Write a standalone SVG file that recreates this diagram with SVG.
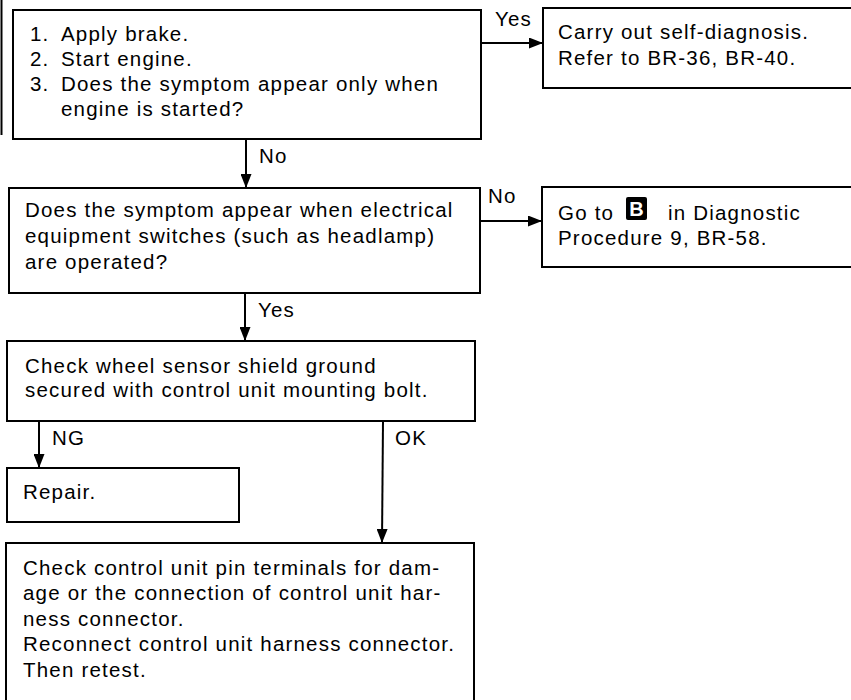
<svg xmlns="http://www.w3.org/2000/svg" width="851" height="700" viewBox="0 0 851 700">
  <defs>
    <marker id="ah" markerUnits="userSpaceOnUse" markerWidth="14" markerHeight="11" refX="14" refY="5.5" orient="auto">
      <path d="M0,0 L14,5.5 L0,11 z" fill="#000"/>
    </marker>
    <style>
      .box { fill: #fff; stroke: #000; stroke-width: 2; }
      .t { font-family: "Liberation Sans", Arial, sans-serif; font-size: 20.5px; letter-spacing: 1.2px; fill: #000; }
      .c { stroke: #000; stroke-width: 2; fill: none; marker-end: url(#ah); }
    </style>
  </defs>
  <rect x="0" y="0" width="851" height="700" fill="#fff"/>
  <line x1="1.5" y1="0" x2="1.5" y2="135" stroke="#000" stroke-width="2"/>

  <g id="connectors">
    <line class="c" x1="481" y1="43" x2="543" y2="43"/>
    <text class="t" x="495" y="26">Yes</text>
    <line class="c" x1="246" y1="139" x2="246" y2="188"/>
    <text class="t" x="259" y="163">No</text>
    <line class="c" x1="480" y1="221" x2="542" y2="221"/>
    <text class="t" x="488" y="203">No</text>
    <line class="c" x1="245" y1="293" x2="245" y2="341"/>
    <text class="t" x="258" y="317">Yes</text>
    <line class="c" x1="39" y1="421" x2="39" y2="468"/>
    <text class="t" x="52" y="445">NG</text>
    <line class="c" x1="383" y1="421" x2="382" y2="543"/>
    <text class="t" x="395" y="445">OK</text>
  </g>

  <g id="n1">
    <rect class="box" x="13" y="10" width="468" height="129"/>
    <text class="t" x="30" y="41">1.</text><text class="t" x="61" y="41">Apply brake.</text>
    <text class="t" x="30" y="66">2.</text><text class="t" x="61" y="66">Start engine.</text>
    <text class="t" x="30" y="91">3.</text><text class="t" x="61" y="91">Does the symptom appear only when</text>
    <text class="t" x="61" y="116">engine is started?</text>
  </g>

  <g id="n2">
    <rect class="box" x="543" y="8" width="330" height="80"/>
    <text class="t" x="558" y="39">Carry out self-diagnosis.</text>
    <text class="t" x="558" y="65">Refer to BR-36, BR-40.</text>
  </g>

  <g id="n3">
    <rect class="box" x="9" y="188" width="471" height="105"/>
    <text class="t" x="25" y="217">Does the symptom appear when electrical</text>
    <text class="t" x="25" y="243">equipment switches (such as headlamp)</text>
    <text class="t" x="25" y="269">are operated?</text>
  </g>

  <g id="n4">
    <rect class="box" x="542" y="187" width="330" height="80"/>
    <text class="t" x="558" y="220">Go to</text>
    <rect x="626" y="197" width="21" height="23" rx="2" fill="#000"/>
    <text x="636.5" y="216" text-anchor="middle" font-family="Liberation Sans, Arial, sans-serif" font-size="20" font-weight="bold" fill="#fff">B</text>
    <text class="t" x="668" y="220">in Diagnostic</text>
    <text class="t" x="558" y="245">Procedure 9, BR-58.</text>
  </g>

  <g id="n5">
    <rect class="box" x="7" y="341" width="468" height="80"/>
    <text class="t" x="25" y="373">Check wheel sensor shield ground</text>
    <text class="t" x="25" y="397">secured with control unit mounting bolt.</text>
  </g>

  <g id="n6">
    <rect class="box" x="7" y="468" width="232" height="54"/>
    <text class="t" x="23" y="499">Repair.</text>
  </g>

  <g id="n7">
    <rect class="box" x="6" y="543" width="468" height="170"/>
    <text class="t" x="23" y="575">Check control unit pin terminals for dam-</text>
    <text class="t" x="23" y="600">age or the connection of control unit har-</text>
    <text class="t" x="23" y="626">ness connector.</text>
    <text class="t" x="23" y="651">Reconnect control unit harness connector.</text>
    <text class="t" x="23" y="677">Then retest.</text>
  </g>
</svg>
